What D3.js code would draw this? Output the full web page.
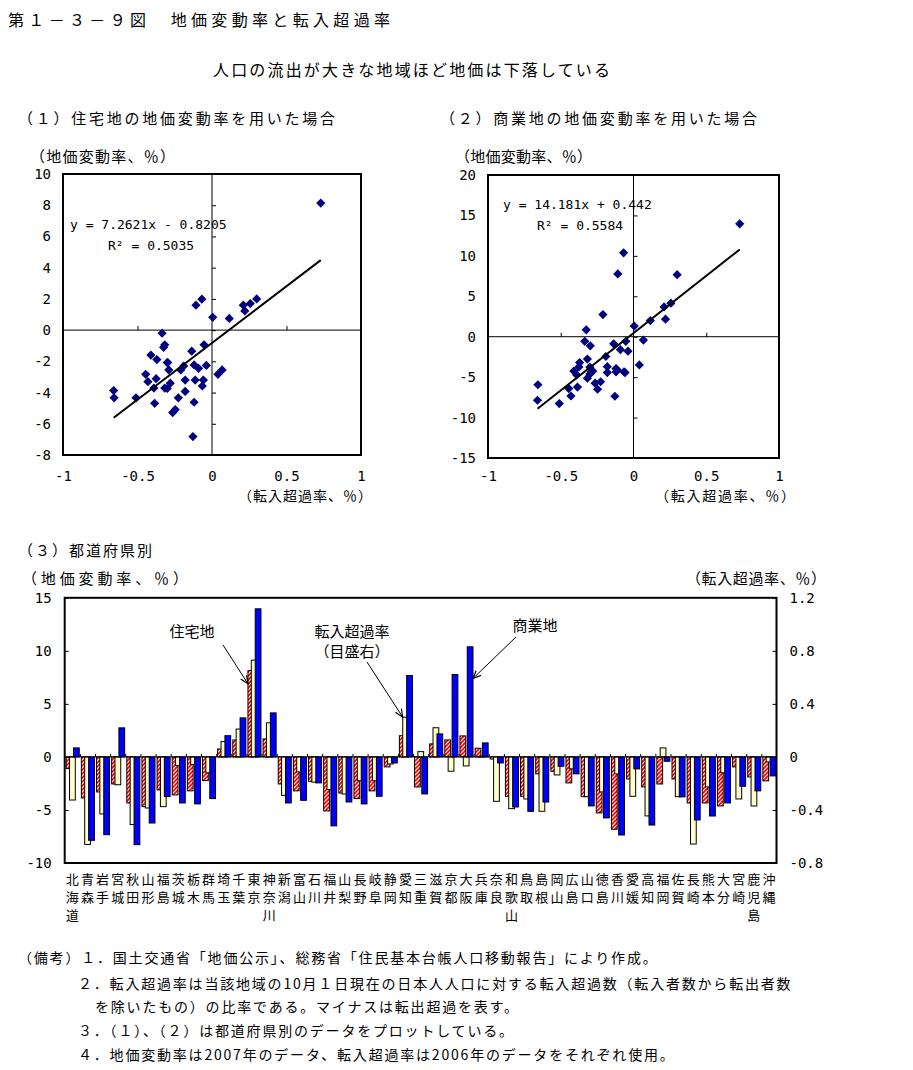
<!DOCTYPE html>
<html><head><meta charset="utf-8">
<script src="https://cdn.jsdelivr.net/npm/d3@7"></script>
<style>
body{margin:0;background:#fff;}
svg{display:block;}
.jp{font-family:"Noto Sans CJK JP","Noto Sans CJK SC",sans-serif;fill:#000;}
.num{font-family:"DejaVu Sans Mono",monospace;fill:#000;}
</style></head><body>
<svg id="chart" width="913" height="1070"></svg>
<script>
// ---------------- data ----------------
const prefectures = ["北海道","青森","岩手","宮城","秋田","山形","福島","茨城","栃木","群馬","埼玉","千葉","東京","神奈川","新潟","富山","石川","福井","山梨","長野","岐阜","静岡","愛知","三重","滋賀","京都","大阪","兵庫","奈良","和歌山","鳥取","島根","岡山","広島","山口","徳島","香川","愛媛","高知","福岡","佐賀","長崎","熊本","大分","宮崎","鹿児島","沖縄"];
// 住宅地の地価変動率 (%)
const residential = [-1.1,-3.87,-3.3,-2.55,-4.34,-4.69,-3.11,-3.58,-3.2,-2.23,0.75,1.6,8.14,1.7,-2.55,-3.2,-2.3,-5.09,-3.4,-3.93,-3.2,-0.94,2.0,-2.83,1.23,1.6,1.98,0.82,-0.2,-3.71,-3.71,-1.6,-1.35,-2.45,-3.74,-5.28,-6.82,-2.08,-2.83,-2.55,-2.08,-4.34,-4.34,-4.62,-0.94,-1.89,-2.26];
// 商業地の地価変動率 (%)
const commercial = [0.85,-7.86,-7.33,2.74,-8.27,-6.23,-3.74,-4.34,-4.43,-3.93,2.0,3.68,13.96,4.15,-4.34,-4.09,-2.45,-6.5,-4.25,-4.43,-3.71,-0.57,7.67,-3.49,2.17,7.77,10.38,1.32,-0.57,-4.72,-5.13,-4.25,-0.88,-1.6,-4.62,-5.75,-7.36,-1.13,-6.42,-0.41,-3.77,-5.94,-5.57,-4.34,-2.77,-3.2,-1.79];
// 転入超過率 (%)
const migration = [-0.325,-0.66,-0.43,-0.21,-0.51,-0.385,-0.375,-0.065,-0.058,-0.12,0.116,0.21,0.73,0.257,-0.29,-0.113,-0.19,-0.247,-0.28,-0.18,-0.18,-0.053,0.30,0.04,0.22,-0.108,-0.068,0.005,-0.335,-0.39,-0.317,-0.41,-0.136,-0.09,-0.30,-0.264,-0.128,-0.297,-0.445,0.068,-0.30,-0.657,-0.226,-0.12,-0.317,-0.37,-0.038];

const scatterXTicks = [-1,-0.5,0,0.5,1];
const scatter1YTicks = [10,8,6,4,2,0,-2,-4,-6,-8];
const scatter2YTicks = [20,15,10,5,0,-5,-10,-15];
const barLeftTicks = [15,10,5,0,-5,-10];
const barRightTicks = [1.2,0.8,0.4,0,-0.4,-0.8];
const trend1 = {slope:7.2621, intercept:-0.8205};
const trend2 = {slope:14.181, intercept:0.442};
const eq1 = ["y = 7.2621x - 0.8205","R² = 0.5035"];
const eq2 = ["y = 14.181x + 0.442","R² = 0.5584"];

const notes = [
 "（備考）１．国土交通省「地価公示」、総務省「住民基本台帳人口移動報告」により作成。",
 "２．転入超過率は当該地域の10月１日現在の日本人人口に対する転入超過数（転入者数から転出者数",
 "を除いたもの）の比率である。マイナスは転出超過を表す。",
 "３．（１）、（２）は都道府県別のデータをプロットしている。",
 "４．地価変動率は2007年のデータ、転入超過率は2006年のデータをそれぞれ使用。"
];

// ---------------- drawing ----------------
const svg = d3.select("#chart");
const defs = svg.append("defs");
const pat = defs.append("pattern").attr("id","hatch").attr("patternUnits","userSpaceOnUse")
  .attr("width",4).attr("height",4);
pat.append("rect").attr("width",4).attr("height",4).attr("fill","#fff");
pat.append("path").attr("d","M-1,1 l2,-2 M0,4 l4,-4 M3,5 l2,-2").attr("stroke","#ff0000").attr("stroke-width",1.7);
defs.append("marker").attr("id","arrow").attr("markerUnits","userSpaceOnUse")
  .attr("markerWidth",9).attr("markerHeight",8).attr("refX",8).attr("refY",4).attr("orient","auto")
  .append("path").attr("d","M0,0.5 L8,4 L0,7.5").attr("fill","none").attr("stroke","#000").attr("stroke-width",1.2);

function txt(x,y,s,size,opts={}){
  const t = svg.append("text").attr("class",opts.cls||"jp").attr("x",x).attr("y",y)
    .attr("font-size",size).text(s);
  if(opts.len) t.attr("textLength",opts.len).attr("lengthAdjust","spacing");
  if(opts.anchor) t.attr("text-anchor",opts.anchor);
  if(opts.ls) t.attr("letter-spacing",opts.ls);
  return t;
}

// titles
txt(8,26,"第１－３－９図　地価変動率と転入超過率",16,{len:382});
txt(213,76,"人口の流出が大きな地域ほど地価は下落している",16,{len:397});
txt(18,124,"（１）住宅地の地価変動率を用いた場合",15,{len:317});
txt(440,124,"（２）商業地の地価変動率を用いた場合",15,{len:317});
txt(30,162,"（地価変動率、％）",15,{len:145});
txt(455,162,"（地価変動率、％）",15,{len:137});
txt(238,501,"（転入超過率、％）",14,{len:134});
txt(655,501,"（転入超過率、％）",14,{len:140});

const diamond = {draw(ctx,size){const r=Math.sqrt(size/2);ctx.moveTo(0,-r);ctx.lineTo(r,0);ctx.lineTo(0,r);ctx.lineTo(-r,0);ctx.closePath();}};

function scatter(cfg){
  const x = d3.scaleLinear().domain([-1,1]).range([cfg.x0,cfg.x1]);
  const y = d3.scaleLinear().domain(cfg.yDomain).range([cfg.y1,cfg.y0]);
  const g = svg.append("g");
  g.append("line").attr("x1",x(-1)).attr("x2",x(1)).attr("y1",y(0)).attr("y2",y(0)).attr("stroke","#000");
  g.append("line").attr("x1",x(0)).attr("x2",x(0)).attr("y1",y(cfg.yDomain[0])).attr("y2",y(cfg.yDomain[1])).attr("stroke","#000");
  g.append("g").attr("transform",`translate(0,${y(0)})`)
    .call(d3.axisTop(x).tickValues([-0.5,0.5]).tickSize(4).tickFormat(""))
    .call(a=>a.select(".domain").remove());
  g.append("g").attr("transform",`translate(${x(0)},0)`)
    .call(d3.axisRight(y).tickValues(cfg.yTicks).tickSize(4).tickFormat(""))
    .call(a=>a.select(".domain").remove());
  const yl = g.append("g").attr("transform",`translate(${cfg.x0},0)`)
    .call(d3.axisLeft(y).tickValues(cfg.yTicks).tickSize(0).tickPadding(12).tickFormat(d=>String(d)));
  yl.select(".domain").remove();
  yl.selectAll("text").attr("class","num").attr("font-size",14).attr("fill","#000");
  const xl = g.append("g").attr("transform",`translate(0,${cfg.y1})`)
    .call(d3.axisBottom(x).tickValues(scatterXTicks).tickSize(0).tickPadding(cfg.xPad).tickFormat(d=>String(d)));
  xl.select(".domain").remove();
  xl.selectAll("text").attr("class","num").attr("font-size",14).attr("fill","#000");
  g.append("rect").attr("x",cfg.x0).attr("y",cfg.y0).attr("width",cfg.x1-cfg.x0).attr("height",cfg.y1-cfg.y0)
    .attr("fill","none").attr("stroke","#000").attr("stroke-width",2);
  const pts = migration.map((m,i)=>({x:m,y:cfg.yVals[i]}));
  g.selectAll("path.pt").data(pts).enter().append("path").attr("class","pt")
    .attr("d",d3.symbol().type(diamond).size(2*4.6*4.6)())
    .attr("transform",d=>`translate(${x(d.x)},${y(d.y)})`)
    .attr("fill","#000080");
  const ext = d3.extent(migration);
  const line = d3.line().x(d=>x(d)).y(d=>y(cfg.trend.slope*d+cfg.trend.intercept));
  g.append("path").attr("d",line(ext)).attr("stroke","#000").attr("stroke-width",2).attr("fill","none");
  cfg.eq.forEach((s,i)=>{
    g.append("text").attr("class","num").attr("font-size",13).attr("x",cfg.eqPos[i][0]).attr("y",cfg.eqPos[i][1]).text(s);
  });
}

scatter({x0:63,x1:361,y0:174,y1:455,yDomain:[-8,10],yTicks:scatter1YTicks,yVals:residential,
  trend:trend1,eq:eq1,eqPos:[[70,229],[108,250]],xPad:16});
scatter({x0:488,x1:779,y0:175,y1:458,yDomain:[-15,20],yTicks:scatter2YTicks,yVals:commercial,
  trend:trend2,eq:eq2,eqPos:[[503,209],[537,230]],xPad:13});

// ---------------- bar chart ----------------
txt(18,556,"（３）都道府県別",15,{len:134});
txt(22,584,"（地価変動率、％）",15,{len:166});
txt(686,584,"（転入超過率、％）",15,{len:140});

const bx0=64.7, bx1=776.5, by0=597.8, by1=863;
const xb = d3.scaleBand().domain(prefectures).range([bx0,bx1]).padding(0);
const yL = d3.scaleLinear().domain([-10,15]).range([by1,by0]);
const yR = d3.scaleLinear().domain([-0.8,1.2]).range([by1,by0]);
const bw = xb.bandwidth();
const barW = 0.38;
const bg = svg.append("g");

const seriesDefs = [
  {vals:residential, scale:yL, off:0.10, fill:"url(#hatch)"},
  {vals:migration, scale:yR, off:0.32, fill:"#ffffcc"},
  {vals:commercial, scale:yL, off:0.58, fill:"#0000ff"}
];
prefectures.forEach((p,i)=>{
  seriesDefs.forEach(s=>{
    const v=s.vals[i], y0=s.scale(0), yv=s.scale(v);
    bg.append("rect").attr("x",xb(p)+s.off*bw).attr("width",barW*bw)
      .attr("y",Math.min(y0,yv)).attr("height",Math.abs(yv-y0))
      .attr("fill",s.fill).attr("stroke","#000").attr("stroke-width",1);
  });
});
bg.append("g").attr("transform",`translate(0,${yL(0)})`)
  .call(d3.axisTop(d3.scaleLinear().domain([0,prefectures.length]).range([bx0,bx1]))
    .tickValues(d3.range(1,prefectures.length)).tickSize(3).tickFormat(""))
  .call(a=>a.select(".domain").attr("d",`M${bx0},0H${bx1}`));
const la = bg.append("g").attr("transform",`translate(${bx0},0)`)
  .call(d3.axisRight(yL).tickValues(barLeftTicks).tickSize(4).tickFormat(""));
la.select(".domain").remove();
const ll = bg.append("g").attr("transform",`translate(${bx0},0)`)
  .call(d3.axisLeft(yL).tickValues(barLeftTicks).tickSize(0).tickPadding(13).tickFormat(d=>String(d)));
ll.select(".domain").remove();
ll.selectAll("text").attr("class","num").attr("font-size",14).attr("fill","#000");
const ra = bg.append("g").attr("transform",`translate(${bx1},0)`)
  .call(d3.axisLeft(yR).tickValues(barRightTicks).tickSize(4).tickFormat(""));
ra.select(".domain").remove();
const rl = bg.append("g").attr("transform",`translate(${bx1},0)`)
  .call(d3.axisRight(yR).tickValues(barRightTicks).tickSize(0).tickPadding(13).tickFormat(d=>String(d)));
rl.select(".domain").remove();
rl.selectAll("text").attr("class","num").attr("font-size",14).attr("fill","#000");
bg.append("rect").attr("x",bx0).attr("y",by0).attr("width",bx1-bx0).attr("height",by1-by0)
  .attr("fill","none").attr("stroke","#000").attr("stroke-width",2);

prefectures.forEach(p=>{
  const cx = xb(p)+bw/2;
  [...p].forEach((ch,k)=>{
    txt(cx,884+k*18,ch,13,{anchor:"middle"});
  });
});

const annotations = [
  {lines:["住宅地"], tx:192, ty:[637], from:[223,645], series:0, idx:12, value:6.9, edge:"left"},
  {lines:["転入超過率","（目盛右）"], tx:352, ty:[637,657], from:[367,662], series:1, idx:22, value:0.30, edge:"left"},
  {lines:["商業地"], tx:535, ty:[631], from:[516,637], series:2, idx:26, value:7.4, edge:"right"}
];
annotations.forEach(a=>{
  a.lines.forEach((l,k)=>txt(a.tx,a.ty[k],l,15,{anchor:"middle"}));
  const s = seriesDefs[a.series];
  const bx = xb(prefectures[a.idx]) + s.off*bw + (a.edge==="right"?barW*bw:0);
  const by = s.scale(a.value);
  svg.append("line").attr("x1",a.from[0]).attr("y1",a.from[1]).attr("x2",bx).attr("y2",by)
    .attr("stroke","#000").attr("stroke-width",1).attr("marker-end","url(#arrow)");
});

const noteX = [18,78,95,78,78];
const noteY = [963,989,1012,1036,1060];
notes.forEach((n,i)=>txt(noteX[i],noteY[i],n,14,{ls:1.8}));
</script>
</body></html>
